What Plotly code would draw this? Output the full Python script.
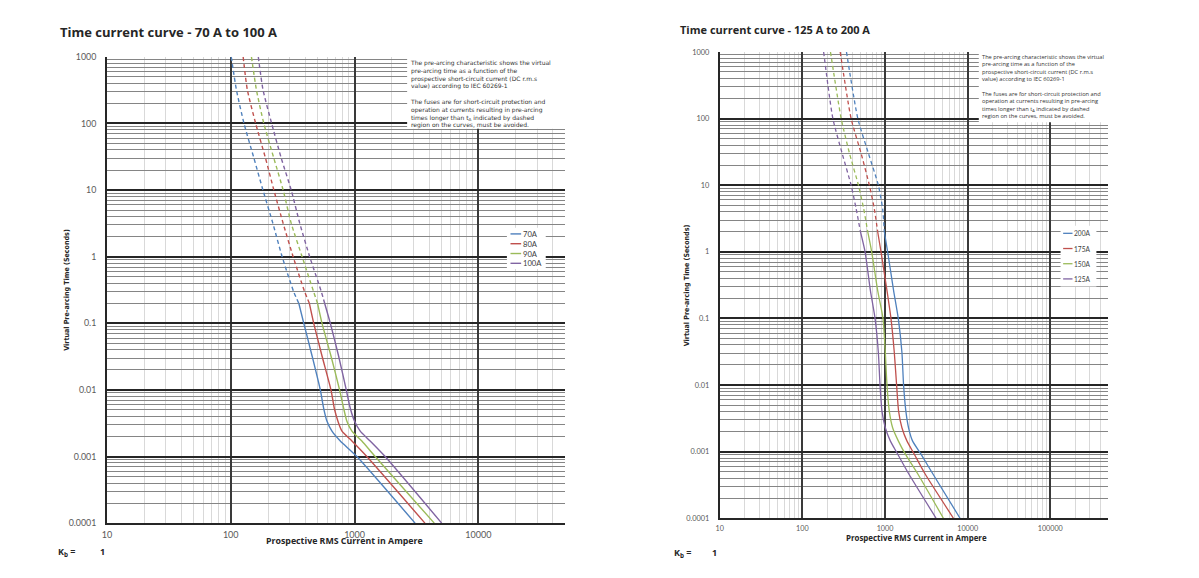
import numpy as np
import plotly.graph_objects as go

W, H = 1199, 578
OFF = 8  # default page margin around the figure div

# ---- left chart: 70 A to 100 A (current in A, time in s) ----
left_names = ['70A', '80A', '90A', '100A']
left_colors = ['#4F81BD', '#C0504D', '#9BBB59', '#8064A2']
left_t_dash = [1000, 324, 100, 30, 10, 3.16, 1, 0.295, 0.198]
left_t_solid = [0.198, 0.1, 0.0323, 0.01, 0.0053, 0.00338, 0.0024, 0.00171, 0.001, 0.0001]
i70_dash = [101, 111, 128, 154, 182, 219, 260, 323, 355]
i80_dash = [126, 136, 159, 191, 223, 265, 319, 396, 432]
i90_dash = [147, 161, 185, 223, 265, 308, 377, 468, 503]
i100_dash = [167, 182, 214, 256, 308, 361, 434, 540, 574]
i70_solid = [355, 389, 454, 529, 563, 599, 657, 767, 1044, 3080]
i80_solid = [432, 468, 546, 645, 686, 734, 791, 952, 1256, 3700]
i90_solid = [503, 546, 645, 757, 816, 867, 952, 1145, 1466, 4400]
i100_solid = [574, 637, 743, 857, 923, 1000, 1111, 1336, 1765, 5050]

# ---- right chart: 125 A to 200 A ----
right_names = ['200A', '175A', '150A', '125A']
right_colors = ['#4F81BD', '#C0504D', '#9BBB59', '#8064A2']
right_t_dash = [1000, 100, 30, 10, 4.4, 2.0]
right_t_solid = [2.0, 1, 0.262, 0.1, 0.0307, 0.01, 0.00402, 0.00228, 0.00145, 0.000923, 0.000469, 0.0001]
i200_dash = [342, 469, 630, 831, 937, 982]
i175_dash = [287, 389, 514, 647, 743, 816]
i150_dash = [219, 295, 372, 477, 553, 618]
i125_dash = [181, 234, 303, 389, 448, 505]
i200_solid = [982, 1077, 1271, 1448, 1603, 1678, 1790, 1928, 2153, 2716, 3770, 8090]
i175_solid = [816, 895, 1057, 1181, 1296, 1382, 1462, 1603, 1841, 2254, 3036, 6730]
i150_solid = [618, 690, 816, 946, 1009, 1057, 1128, 1237, 1448, 1758, 2477, 5090]
i125_solid = [505, 574, 666, 758, 831, 871, 920, 1009, 1159, 1421, 1928, 4150]

y_ticks = [0.0001, 0.001, 0.01, 0.1, 1, 10, 100, 1000]
y_labels = ['0.0001', '0.001', '0.01', '0.1', '1', '10', '100', '1000']
x_ticks_left = [10, 100, 1000, 10000]
x_labels_left = ['10', '100', '1000', '10000']
x_ticks_right = [10, 100, 1000, 10000, 100000]
x_labels_right = ['10', '100', '1000', '10000', '100000']

note = ("The pre-arcing characteristic shows the virtual<br>pre-arcing time as a function of the<br>"
        "prospective short-circuit current (DC r.m.s<br>value) according to IEC 60269-1<br><br>"
        "The fuses are for short-circuit protection and<br>operation at currents resulting in pre-arcing<br>"
        "times longer than t<sub>A</sub> indicated by dashed<br>region on the curves, must be avoided.")

FW, FH = W - 2 * OFF, H - 2 * OFF
NARROW = 'Liberation Sans Narrow, DejaVu Sans Condensed, Roboto Condensed, Lato'


def px(x):
    return (x - OFF) / FW


def py(y):
    return 1 - (y - OFF) / FH


def minors(lo, hi):
    return [m * 10.0 ** e for e in range(lo, hi) for m in range(2, 10)]


def xaxis_style(domain, rng, tickvals, ticktext, size, anchor):
    return dict(type='log', domain=domain, range=rng, anchor=anchor,
                tickmode='array', tickvals=tickvals, ticktext=ticktext,
                showgrid=True, gridcolor='#3a3a3a', gridwidth=1.5,
                minor=dict(tickmode='array', tickvals=minors(1, 6), showgrid=True,
                           gridcolor='#d9d9d9', gridwidth=1),
                showline=True, linecolor='#262626', linewidth=1.7,
                ticks='', ticklabelstandoff=2, zeroline=False,
                tickfont=dict(family='Lato', size=size, color='#595959'))


def yaxis_style(domain, size, anchor):
    return dict(type='log', domain=domain, range=[-4, 3], anchor=anchor,
                tickmode='array', tickvals=y_ticks, ticktext=y_labels,
                showgrid=True, gridcolor='#262626', gridwidth=1.5,
                minor=dict(tickmode='array', tickvals=minors(-4, 3), showgrid=True,
                           gridcolor='#858585', gridwidth=0.9),
                showline=True, linecolor='#262626', linewidth=1.7,
                ticks='', ticklabelstandoff=7, zeroline=False,
                tickfont=dict(family='Lato', size=size, color='#595959'))


fig = go.Figure()

left_dash = [i70_dash, i80_dash, i90_dash, i100_dash]
left_solid = [i70_solid, i80_solid, i90_solid, i100_solid]
for name, col, d, s in zip(left_names, left_colors, left_dash, left_solid):
    fig.add_trace(go.Scatter(x=d, y=left_t_dash, mode='lines', name=name, xaxis='x', yaxis='y',
                             line=dict(color=col, width=1.4, dash='4px,3px', shape='spline', smoothing=0.6)))
    fig.add_trace(go.Scatter(x=s, y=left_t_solid, mode='lines', name=name, xaxis='x', yaxis='y',
                             line=dict(color=col, width=1.4, shape='spline', smoothing=0.6)))

right_dash = [i200_dash, i175_dash, i150_dash, i125_dash]
right_solid = [i200_solid, i175_solid, i150_solid, i125_solid]
for name, col, d, s in zip(right_names, right_colors, right_dash, right_solid):
    fig.add_trace(go.Scatter(x=d, y=right_t_dash, mode='lines', name=name, xaxis='x2', yaxis='y2',
                             line=dict(color=col, width=1.3, dash='4px,3px', shape='spline', smoothing=0.6)))
    fig.add_trace(go.Scatter(x=s, y=right_t_solid, mode='lines', name=name, xaxis='x2', yaxis='y2',
                             line=dict(color=col, width=1.3, shape='spline', smoothing=0.6)))

lx = xaxis_style([px(102.3), px(562.3)], [1, np.log10(50000)], x_ticks_left, x_labels_left, 9, 'y')
rx = xaxis_style([px(717.7), px(1107.7)], [1, np.log10(500000)], x_ticks_right, x_labels_right, 7.2, 'y2')
ly = yaxis_style([py(527.3), py(51.7)], 8.8, 'x')
ry = yaxis_style([py(522.3), py(46.7)], 7.4, 'x2')


def white_box(x0, x1, y0, y1):
    return dict(type='rect', xref='paper', yref='paper', layer='above', line=dict(width=0),
                fillcolor='white', x0=px(x0), x1=px(x1), y0=py(y1), y1=py(y0))


shapes = [
    white_box(403.8, 566, 49, 125),     # note, left
    white_box(977.9, 1111, 44, 118.3),  # note, right
    white_box(504, 543, 226, 268),      # legend, left
    white_box(1060, 1096, 224, 286),    # legend, right
]


def label(text, x, y, size, family='Open Sans', color='#262626', xanchor='left', **kw):
    return dict(text=text, x=px(x), y=py(y), xanchor=xanchor, yanchor=kw.pop('yanchor', 'middle'),
                font=dict(family=family, size=size, color=color), **kw)


annotations = [
    label('<b>Time current curve - 70 A to 100 A</b>', 53, 26, 13),
    label('<b>Time current curve - 125 A to 200 A</b>', 676, 24, 11),
    label(note, 404.5, 51.5, 6.0, family='DejaVu Sans', color='#333333', yanchor='top', align='left'),
    label(note, 979, 46, 5.7, color='#333333', yanchor='top', align='left'),
    label('<b>Prospective RMS Current in Ampere</b>', 340.8, 546, 8.8, xanchor='center'),
    label('<b>Prospective RMS Current in Ampere</b>', 915.8, 542, 7.9, xanchor='center'),
    label('<b>Virtual Pre-arcing Time (Seconds)</b>', 62, 289.5, 7.1, family=NARROW,
          xanchor='center', textangle=-90),
    label('<b>Virtual Pre-arcing Time (Seconds)</b>', 684, 284.5, 7.1, family=NARROW,
          xanchor='center', textangle=-90),
    label('<b>K<sub>b</sub> =</b>', 51, 556.7, 9),
    label('<b>1</b>', 97.5, 556.7, 9, xanchor='center'),
    label('<b>K<sub>b</sub> =</b>', 670, 557.7, 9),
    label('<b>1</b>', 712.7, 557.7, 9, xanchor='center'),
]

# hand-drawn legends (short line samples like the original)
for k, (name, col) in enumerate(zip(left_names, left_colors)):
    yy = 232.3 + 10 * k
    shapes.append(dict(type='line', xref='paper', yref='paper', layer='above', x0=px(507.6), x1=px(518.3),
                       y0=py(yy), y1=py(yy), line=dict(color=col, width=1.4)))
    annotations.append(label(name, 518.3, yy, 7.6, family='Lato', color='#404040'))
for k, (name, col) in enumerate(zip(right_names, right_colors)):
    yy = 231.7 + 15.5 * k
    shapes.append(dict(type='line', xref='paper', yref='paper', layer='above', x0=px(1062.6), x1=px(1072),
                       y0=py(yy), y1=py(yy), line=dict(color=col, width=1.3)))
    annotations.append(label(name, 1071.3, yy, 6.6, family='Lato', color='#404040'))

for a in annotations:
    a.update(xref='paper', yref='paper', showarrow=False)

fig.update_layout(
    width=FW, height=FH, autosize=False, margin=dict(l=0, r=0, t=0, b=0),
    paper_bgcolor='white', plot_bgcolor='white', showlegend=False,
    xaxis=lx, yaxis=ly, xaxis2=rx, yaxis2=ry,
    shapes=shapes, annotations=annotations,
)

fig.write_html("out.html")
